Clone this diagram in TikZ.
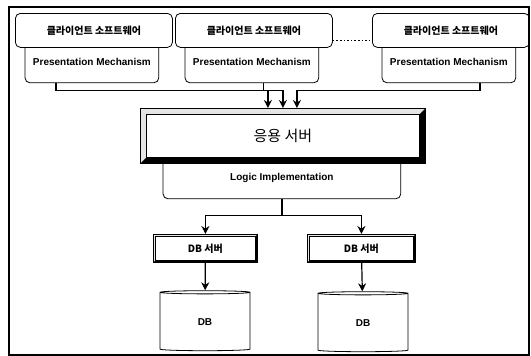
\documentclass[tikz,border=0pt]{standalone}
\usepackage{fontspec}
\setmainfont{Liberation Sans}
\newfontfamily\kr{Noto Sans CJK KR}
\usetikzlibrary{arrows.meta,shapes.geometric}

% bevelled box drawn round a named node: #1 node, #2 band width
\newcommand\bevelbox[2]{%
  \fill[gray!20] (#1.north west) -- (#1.north east) -- ([shift={(-#2,-#2)}]#1.north east)
    -- ([shift={(#2,-#2)}]#1.north west) -- ([shift={(#2,#2)}]#1.south west) -- (#1.south west) -- cycle;
  \fill (#1.north east) -- (#1.south east) -- (#1.south west) -- ([shift={(#2,#2)}]#1.south west)
    -- ([shift={(-#2,#2)}]#1.south east) -- ([shift={(-#2,-#2)}]#1.north east) -- cycle;
  \draw (#1.north west) rectangle (#1.south east);
  \draw ([shift={(#2,-#2)}]#1.north west) rectangle ([shift={(-#2,#2)}]#1.south east);}

\begin{document}
\begin{tikzpicture}[x=1pt,y=-1pt,line width=0.8pt,
  client node/.style={draw, rounded corners=5pt, anchor=north west, minimum width=157pt, minimum height=34pt, font=\kr\bfseries\fontsize{10}{12}\selectfont},
  pres node/.style={anchor=north west, minimum width=133pt, minimum height=35pt, text height=7pt, text depth=6pt, font=\bfseries\fontsize{10}{12}\selectfont},
  server node/.style={anchor=north west, inner sep=0pt},
  db node/.style={draw, cylinder, shape border rotate=90, aspect=0.15, minimum width=90pt, minimum height=60pt, font=\bfseries\fontsize{10}{12}\selectfont},
  conn/.style={-{Stealth[length=8pt,width=8pt]}, line width=1.2pt}]
  \tikzstyle{every node}=[font=\small]

  \useasboundingbox (0,0) rectangle (531,356);
  \draw[line width=1.2pt] (9,7) rectangle (529,355);

  % clients
  \node[client node] (c1) at (15,13) {클라이언트 소프트웨어};
  \node[client node] (c2) at (175,13) {클라이언트 소프트웨어};
  \node[client node] (c3) at (372,13) {클라이언트 소프트웨어};
  \node[pres node] (p1) at (25,47) {Presentation Mechanism};
  \node[pres node] (p2) at (185,47) {Presentation Mechanism};
  \node[pres node] (p3) at (382,47) {Presentation Mechanism};
  \foreach \p in {p1,p2,p3}
    \draw[rounded corners=5pt] (\p.north west) -- (\p.south west) -- (\p.south east) -- (\p.north east);
  \draw[dotted, line width=1.6pt] ([yshift=-10pt]c2.east) -- ([yshift=-10pt]c3.west);

  % application server
  \node[server node, minimum width=285pt, minimum height=55pt, font=\kr\fontsize{15}{17}\selectfont] (app) at (140,108) {응용 서버};
  \bevelbox{app}{6pt}
  \node[anchor=north west, minimum width=237pt, minimum height=35pt, text height=7pt, text depth=8pt, font=\bfseries\fontsize{10}{12}\selectfont] (logic) at (163,163) {Logic Implementation};
  \draw[rounded corners=5pt] (logic.north west) -- (logic.south west) -- (logic.south east) -- (logic.north east);

  % db servers
  \node[server node, minimum width=104pt, minimum height=28pt, font=\kr\bfseries\fontsize{10}{12}\selectfont] (s1) at (153,234) {DB 서버};
  \node[server node, minimum width=108pt, minimum height=28pt, font=\kr\bfseries\fontsize{10}{12}\selectfont] (s2) at (307,234) {DB 서버};
  \bevelbox{s1}{2.5pt}
  \bevelbox{s2}{2.5pt}
  \node[db node] (db1) at (205,322) {DB};
  \node[db node] (db2) at (363,323) {DB};

  % connectors
  \draw[conn] ([xshift=-36pt]p1.south) -- ++(0,8) -| ([xshift=-15pt]app.north);
  \draw[conn] ([xshift=11.5pt]p2.south) -- ++(0,8) -| (app.north);
  \draw[conn] ([xshift=31pt]p3.south) -- ++(0,8) -| ([xshift=14pt]app.north);
  \draw[conn] (logic.south) -- ++(0,17) -| (s1.north);
  \draw[conn] (logic.south) -- ++(0,17) -| (s2.north);
  \draw[conn] (s1) -- (db1);
  \draw[conn] (s2) -- (db2);
\end{tikzpicture}
\end{document}
